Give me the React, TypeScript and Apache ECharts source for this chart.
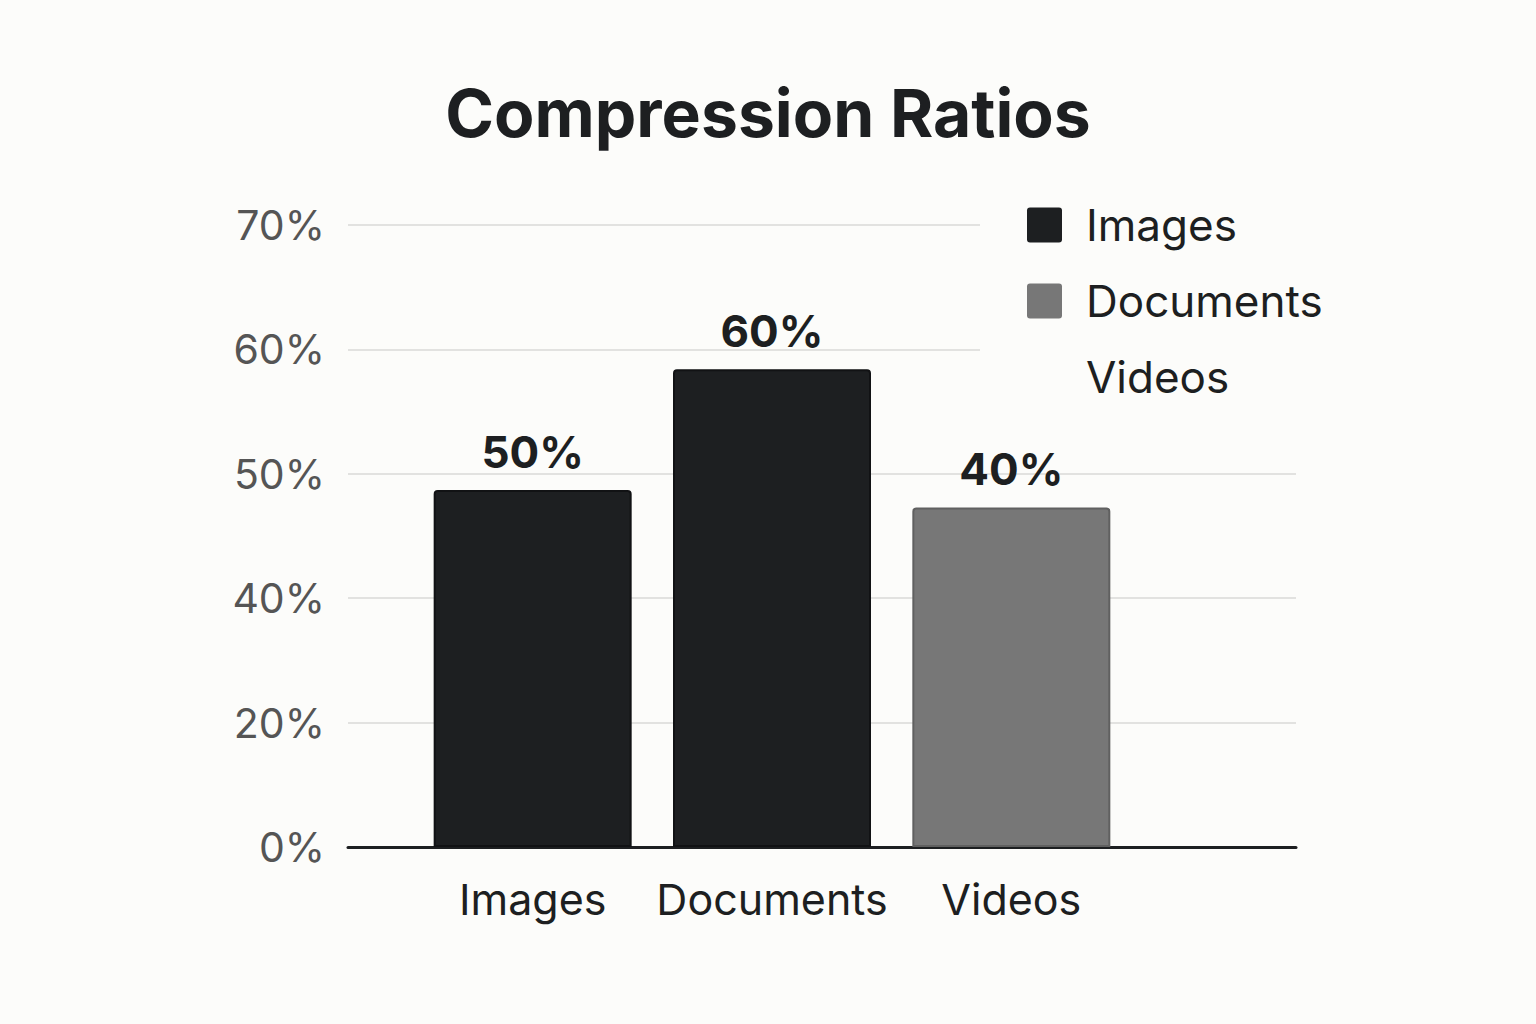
import React, { useEffect, useRef } from "react";
import * as echarts from "echarts";

const categories = ["Images", "Documents", "Videos"];
const yTickLabels = ["0%", "20%", "40%", "50%", "60%", "70%"];
// bar heights, in tick-step units of the y axis
const barHeights = [2.87, 3.84, 2.73];
const barLabels = ["50%", "60%", "40%"];
const barColors = ["#1d1f21", "#1d1f21", "#777777"];
const legendNames = ["Images", "Documents", "Videos"];
const legendColors = ["#1d1f21", "#777777", "rgba(0,0,0,0)"];

const BG = "#fcfcfa";
const FONT = "Inter, 'Noto Sans', sans-serif";
const ICON = "path://M3,0 H32 Q35,0 35,3 V32 Q35,35 32,35 H3 Q0,35 0,32 V3 Q0,0 3,0 Z";

export default function App() {
  const ref = useRef<HTMLDivElement>(null);
  useEffect(() => {
    if (!ref.current) return;
    const chart = echarts.init(ref.current, undefined, { renderer: "svg" });
    const series = categories.map((name, i) => ({
      name,
      type: "bar",
      xAxisIndex: 1,
      yAxisIndex: 1,
      barWidth: 198,
      barGap: "-100%",
      data: categories.map((_, j) =>
        j === i
          ? {
              value: barHeights[i],
              itemStyle: {
                color: barColors[i],
                borderColor: i === 2 ? "#606060" : "#111214",
                borderWidth: 2,
                borderRadius: [3, 3, 0, 0],
              },
            }
          : "-"
      ),
      label: {
        show: true,
        position: "top",
        distance: 16,
        formatter: () => barLabels[i],
        fontFamily: FONT,
        fontSize: 44,
        fontWeight: "bold",
        color: "#1d1f21",
      },
      z: 3,
    }));
    chart.setOption({
      animation: false,
      backgroundColor: BG,
      textStyle: { fontFamily: FONT },
      title: {
        text: "Compression Ratios",
        left: "center",
        top: 75,
        textStyle: { fontFamily: FONT, fontSize: 66, fontWeight: "bold", color: "#1d1f21" },
      },
      legend: {
        orient: "vertical",
        left: 980,
        top: 189,
        padding: [14, 20, 14, 47],
        backgroundColor: BG,
        itemWidth: 35,
        itemHeight: 35,
        itemGap: 32,
        icon: ICON,
        selectedMode: false,
        z: 10,
        textStyle: {
          fontFamily: FONT,
          fontSize: 44,
          lineHeight: 40,
          color: "#1d1f21",
          padding: [0, 0, 0, 19],
        },
        data: legendNames.map((name, i) => ({
          name,
          itemStyle: { color: legendColors[i], borderWidth: 0 },
        })),
      },
      grid: [
        { left: 348, right: 240, top: 225, bottom: 177 },
        { left: 413, width: 718, top: 225, bottom: 177 },
      ],
      xAxis: [
        {
          type: "value",
          gridIndex: 0,
          min: 0,
          max: 1,
          axisLine: { show: true, onZero: false, lineStyle: { color: "#1d1f21", width: 3 } },
          axisTick: { show: false },
          axisLabel: { show: false },
          splitLine: { show: false },
        },
        {
          type: "category",
          gridIndex: 1,
          data: categories,
          axisLine: { show: false },
          axisTick: { show: false },
          axisLabel: {
            interval: 0,
            hideOverlap: false,
            margin: 30,
            fontFamily: FONT,
            fontSize: 43,
            color: "#1d1f21",
          },
        },
      ],
      yAxis: [
        {
          type: "value",
          gridIndex: 0,
          min: 0,
          max: 5,
          interval: 1,
          axisLine: { show: false },
          axisTick: { show: false },
          axisLabel: {
            margin: 23,
            fontFamily: FONT,
            fontSize: 41,
            color: "#555555",
            formatter: (v: number) => yTickLabels[Math.round(v)] ?? "",
          },
          splitLine: { lineStyle: { color: "#e2e2e0", width: 2 } },
        },
        {
          type: "value",
          gridIndex: 1,
          min: 0,
          max: 5,
          interval: 1,
          show: false,
          splitLine: { show: false },
        },
      ],
      series,
    });
    return () => chart.dispose();
  }, []);
  return (
    <div
      ref={ref}
      style={{ position: "absolute", left: 0, top: 0, width: 1536, height: 1024 }}
    />
  );
}
